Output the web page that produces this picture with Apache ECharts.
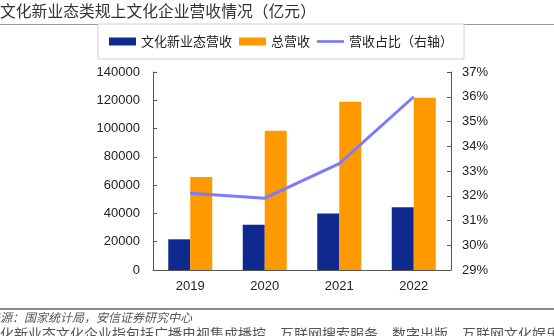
<!DOCTYPE html>
<html><head><meta charset="utf-8">
<script src="https://cdn.jsdelivr.net/npm/echarts@6/dist/echarts.min.js"></script>
<style>html,body{margin:0;padding:0;background:#fff;}#c{width:554px;height:336px;}</style>
</head><body><div id="c"></div>
<script>
const categories = ['2019', '2020', '2021', '2022'];
const newFormatRevenue = [21700, 32000, 40000, 44300];
const totalRevenue = [65800, 98500, 119000, 121800];
const shareRightAxis = [32.1, 31.9, 33.3, 36.0];
const seriesNames = ['文化新业态营收', '总营收', '营收占比（右轴）'];
const titleText = '文化新业态类规上文化企业营收情况（亿元）';
const sourceText = '来源：国家统计局，安信证券研究中心';
const noteText = '文化新业态文化企业指包括广播电视集成播控、互联网搜索服务、数字出版、互联网文化娱乐平台等';

const cjk = '"Noto Sans CJK SC", sans-serif';
const num = '"Liberation Sans", Arial, sans-serif';
const chart = echarts.init(document.getElementById('c'), null, {renderer: 'canvas'});
chart.setOption({
  animation: false,
  backgroundColor: '#fff',
  graphic: [
    {type: 'text', left: 0, top: 3, style: {text: titleText, font: '15.8px ' + cjk, fill: '#333'}},
    {type: 'line', shape: {x1: 0, y1: 24.5, x2: 554, y2: 24.5}, style: {stroke: '#999', lineWidth: 1}},
    {type: 'line', shape: {x1: 0, y1: 309, x2: 554, y2: 309}, style: {stroke: '#888', lineWidth: 2}},
    {type: 'text', x: -12, y: 311, style: {text: sourceText, font: 'italic 12px ' + cjk, fill: '#555'}},
    {type: 'text', x: -14, y: 327, style: {text: noteText, font: '14px ' + cjk, fill: '#555'}}
  ],
  legend: {
    left: 98, top: 24,
    padding: [11, 11, 11, 11],
    itemGap: 7,
    itemWidth: 27, itemHeight: 8,
    borderColor: '#d0d0d0', borderWidth: 1, backgroundColor: '#fff',
    textStyle: {fontFamily: cjk, fontSize: 13, color: '#222'},
    data: [
      {name: seriesNames[0], icon: 'rect'},
      {name: seriesNames[1], icon: 'rect'},
      {name: seriesNames[2], icon: 'path://M0,0H30V3H0Z'}
    ]
  },
  grid: {left: 153, right: 103, top: 72, bottom: 66},
  xAxis: {
    type: 'category', data: categories,
    axisLine: {lineStyle: {color: '#555'}},
    axisTick: {inside: true, length: 5, lineStyle: {color: '#777'}},
    axisLabel: {fontFamily: num, fontSize: 13, color: '#222', margin: 10}
  },
  yAxis: [
    {
      type: 'value', min: 0, max: 140000, interval: 20000,
      axisLine: {show: true, lineStyle: {color: '#555'}},
      axisTick: {show: true, inside: true, length: 4, lineStyle: {color: '#555'}},
      splitLine: {show: false},
      axisLabel: {fontFamily: num, fontSize: 13, color: '#222', margin: 13, formatter: function (v) { return String(v); }}
    },
    {
      type: 'value', min: 29, max: 37, interval: 1, position: 'right',
      axisLine: {show: true, lineStyle: {color: '#555'}},
      axisTick: {show: true, inside: true, length: 4, lineStyle: {color: '#555'}},
      splitLine: {show: false},
      axisLabel: {fontFamily: num, fontSize: 13, color: '#222', margin: 11, formatter: '{value}%'}
    }
  ],
  series: [
    {name: seriesNames[0], type: 'bar', data: newFormatRevenue, barWidth: 22, barGap: '0%', itemStyle: {color: '#0f2a8e'}},
    {name: seriesNames[1], type: 'bar', data: totalRevenue, barWidth: 22, barGap: '0%', itemStyle: {color: '#ff9900'}},
    {name: seriesNames[2], type: 'line', yAxisIndex: 1, data: shareRightAxis, symbol: 'none',
     lineStyle: {color: '#7b7bff', width: 3}, itemStyle: {color: '#7b7bff'}}
  ]
});
</script></body></html>
